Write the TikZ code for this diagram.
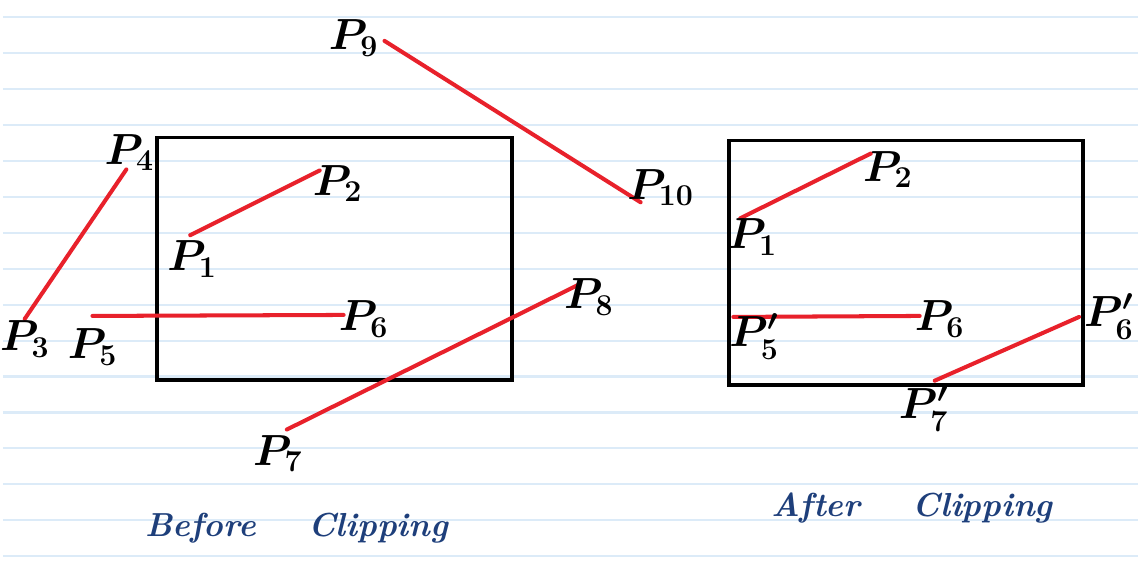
\documentclass[tikz,border=0pt]{standalone}
\usepackage{tikz}
\usetikzlibrary{positioning, calc}
\definecolor{RuleBlue}{HTML}{DCEBF8}
\definecolor{SegRed}{HTML}{E8212B}
\definecolor{InkBlue}{HTML}{1E3F7B}

\begin{document}
\begin{tikzpicture}[x=0.02cm, y=-0.02cm,
        ruling/.style={RuleBlue, line width=1.2pt},
        clipbox/.style={draw=black, line width=2.2pt},
        seg/.style={SegRed, line width=2.3pt, line cap=round},
        ptlabel/.style={font=\fontsize{24}{28}\selectfont\boldmath, inner sep=0pt},
        caption/.style={InkBlue, font=\fontsize{19}{23}\selectfont\bfseries\itshape, inner sep=0pt}]

        % paper
        \fill[white] (0,0) rectangle (1139,585);
        \foreach \k in {0,...,15}
            \draw[ruling] (0,{17.3+36.05*\k}) -- (1139,{17.3+36.05*\k});

        % before clipping
        \draw[clipbox] (155,138) rectangle (511,381);
        \coordinate (p1) at (188,236);
        \coordinate (p2) at (318,171);
        \coordinate (p3) at (22,320);
        \coordinate (p4) at (124,170);
        \coordinate (p5) at (90,317);
        \coordinate (p6) at (342,316);
        \coordinate (p7) at (285,431);
        \coordinate (p8) at (577,286);
        \coordinate (p9) at (383,41);
        \coordinate (p10) at (640,203);
        \draw[seg] (p1) -- (p2);
        \draw[seg] (p4) -- (p3);
        \draw[seg] (p5) -- (p6);
        \draw[seg] (p7) -- (p8);
        \draw[seg] (p9) -- (p10);

        \node[ptlabel] (l1) at (190,260) {$P_1$};
        \node[ptlabel] (l2) at (336,184) {$P_2$};
        \node[ptlabel] (l3) at (22,340) {$P_3$};
        \node[ptlabel] (l4) at (127,153) {$P_4$};
        \node[ptlabel] (l5) at (90,348) {$P_5$};
        \node[ptlabel] (l6) at (362,320) {$P_6$};
        \node[ptlabel] (l7) at (276,455) {$P_7$};
        \node[ptlabel] (l8) at (588,298) {$P_8$};
        \node[ptlabel] (l9) at (352,38) {$P_9$};
        \node[ptlabel] (l10) at (660,188) {$P_{10}$};

        % after clipping
        \draw[clipbox] (729,141) rectangle (1084,386);
        \coordinate (q1) at (740,219);
        \coordinate (q2) at (871,154);
        \coordinate (q5) at (733,318);
        \coordinate (q6) at (920,317);
        \coordinate (q7) at (935,382);
        \coordinate (q8) at (1080,318);
        \draw[seg] (q1) -- (q2);
        \draw[seg] (q5) -- (q6);
        \draw[seg] (q7) -- (q8);

        \node[ptlabel] (m1) at (752,238) {$P_1$};
        \node[ptlabel] (m2) at (888,170) {$P_2$};
        \node[ptlabel] (m5) at (754,338) {$P_5'$};
        \node[ptlabel] (m6) at (940,320) {$P_6$};
        \node[ptlabel] (m8) at (1110,318) {$P_6'$};
        \node[ptlabel] (m7) at (924,410) {$P_7'$};

        \node[caption] (before) at (295,530) {Before\hspace{1.05cm}Clipping};
        \node[caption] (after) at (912,510) {After\hspace{1.05cm}Clipping};
    \end{tikzpicture}
\end{document}
